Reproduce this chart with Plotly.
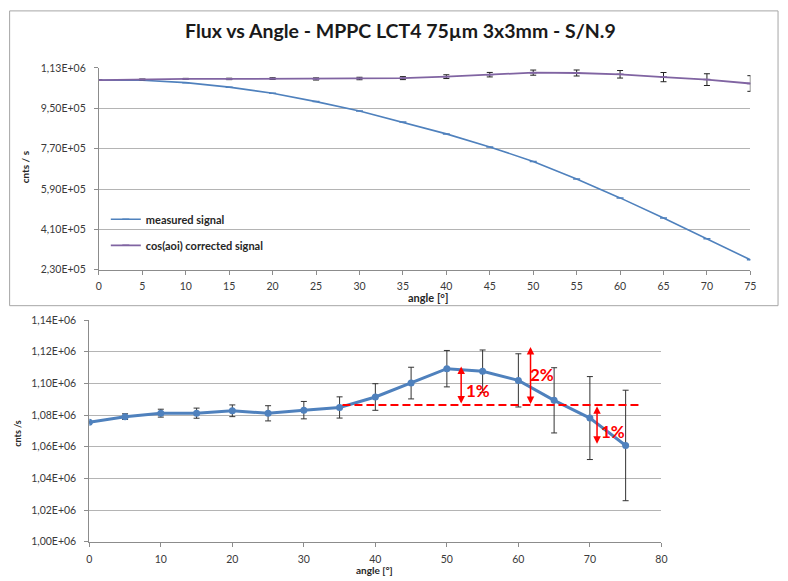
import plotly.graph_objects as go

# ---- data -------------------------------------------------------------
angles = [0, 5, 10, 15, 20, 25, 30, 35, 40, 45, 50, 55, 60, 65, 70, 75]

measured_signal = [1.0755e6, 1.0750e6, 1.0645e6, 1.0445e6, 1.0175e6, 0.9800e6,
                   0.9385e6, 0.8885e6, 0.8360e6, 0.7780e6, 0.7130e6, 0.6350e6,
                   0.5505e6, 0.4605e6, 0.3685e6, 0.2745e6]

corrected_signal = [1.0755e6, 1.0790e6, 1.0812e6, 1.0812e6, 1.0827e6, 1.0811e6,
                    1.0831e6, 1.0848e6, 1.0914e6, 1.1002e6, 1.1093e6, 1.1077e6,
                    1.1019e6, 1.0893e6, 1.0781e6, 1.0608e6]

corrected_err = [600, 1800, 2500, 3200, 3700, 4800, 5500, 6700, 8400, 10000,
                 11500, 13400, 16800, 20600, 26200, 34900]

top_x_ticks = [0, 5, 10, 15, 20, 25, 30, 35, 40, 45, 50, 55, 60, 65, 70, 75]
top_y_ticks = [2.30e5, 4.10e5, 5.90e5, 7.70e5, 9.50e5, 1.13e6]
bottom_x_ticks = [0, 10, 20, 30, 40, 50, 60, 70, 80]
bottom_y_ticks = [1.00e6, 1.02e6, 1.04e6, 1.06e6, 1.08e6, 1.10e6, 1.12e6, 1.14e6]

# reference level and percentage arrows on the zoomed chart
ref_level = 1.0863e6
ref_span = [35.4, 76.9]
arrow_x = [52.0, 61.7, 71.0]
arrow_lo = [1.0863e6, 1.0860e6, 1.0610e6]
arrow_hi = [1.1106e6, 1.1230e6, 1.0855e6]
arrow_text = ["1%", "2%", "1%"]
arrow_label_x = [54.3, 63.3, 73.3]
arrow_label_y = [1.0955e6, 1.1054e6, 1.0699e6]

title_text = "Flux vs Angle - MPPC LCT4 75µm 3x3mm - S/N.9"


def sci_label(v):
    return f"{v:.2E}".replace(".", ",")


W, H = 788, 581
FONT = "Lato"
BLUE = "#4F81BD"
PURPLE = "#8064A2"
GRID = "#b4b4b4"
AXIS = "#8c8c8c"
TICKFONT = dict(family=FONT, size=10.5, color="#3a3a3a")


def px_x(p):
    return p / W


def px_y(p):
    return 1 - p / H


fig = go.Figure()

# ---- top chart: raw and cos-corrected flux ---------------------------
fig.add_trace(go.Scatter(
    x=angles, y=measured_signal, name="measured signal",
    mode="lines+markers", xaxis="x", yaxis="y",
    line=dict(color=BLUE, width=1.6),
    marker=dict(symbol="line-ew", size=5, color=BLUE,
                line=dict(color=BLUE, width=1.5)),
    legendgroup="a",
))
fig.add_trace(go.Scatter(
    x=angles, y=corrected_signal, name="cos(aoi) corrected signal",
    mode="lines+markers", xaxis="x", yaxis="y",
    line=dict(color=PURPLE, width=1.8),
    marker=dict(symbol="line-ew", size=5, color=PURPLE,
                line=dict(color=PURPLE, width=1.5)),
    error_y=dict(type="data", array=corrected_err, visible=True,
                 color="#222222", thickness=1, width=3),
    legendgroup="b",
))

# ---- bottom chart: corrected flux, zoomed ----------------------------
fig.add_trace(go.Scatter(
    x=angles, y=corrected_signal, mode="lines+markers",
    xaxis="x2", yaxis="y2", showlegend=False,
    line=dict(color=BLUE, width=3),
    marker=dict(symbol="circle", size=7, color=BLUE),
    error_y=dict(type="data", array=corrected_err, visible=True,
                 color="#333333", thickness=1, width=3),
))

axis_common = dict(showline=True, linecolor=AXIS, linewidth=1, ticks="outside",
                   ticklen=4, tickcolor=AXIS, zeroline=False, tickfont=TICKFONT)

fig.update_layout(
    width=W, height=H,
    margin=dict(l=0, r=0, t=0, b=0),
    paper_bgcolor="white", plot_bgcolor="white",
    font=dict(family=FONT, color="#222222"),
    xaxis=dict(domain=[px_x(97), px_x(756)], range=[0, 75],
               tickvals=top_x_ticks, ticktext=[str(t) for t in top_x_ticks],
               showgrid=False, anchor="y", ticklabelstandoff=3, **axis_common),
    yaxis=dict(domain=[px_y(269.3), px_y(63.3)], range=[2.30e5, 1.13e6],
               tickvals=top_y_ticks, ticktext=[sci_label(v) for v in top_y_ticks],
               showgrid=True, gridcolor=GRID, gridwidth=1, anchor="x",
               ticklabelstandoff=6, **axis_common),
    xaxis2=dict(domain=[px_x(87.3), px_x(666)], range=[0, 80],
                tickvals=bottom_x_ticks, ticktext=[str(t) for t in bottom_x_ticks],
                showgrid=False, anchor="y2", ticklabelstandoff=4, **axis_common),
    yaxis2=dict(domain=[px_y(547), px_y(320.7)], range=[1.00e6, 1.14e6],
                tickvals=bottom_y_ticks,
                ticktext=[sci_label(v) for v in bottom_y_ticks],
                showgrid=True, gridcolor=GRID, gridwidth=1, anchor="x2",
                ticklabelstandoff=6, **axis_common),
    showlegend=True,
    legend=dict(x=px_x(104), y=px_y(203), xanchor="left", yanchor="top",
                bgcolor="rgba(0,0,0,0)", traceorder="grouped",
                tracegroupgap=7, itemwidth=30,
                font=dict(family=FONT, size=11, color="#262626", weight="bold")),
)

# frame around the top chart
fig.add_shape(type="rect", xref="paper", yref="paper",
              x0=px_x(6.7), x1=px_x(784), y0=px_y(306), y1=px_y(5),
              line=dict(color="#a6a6a6", width=1), fillcolor="rgba(0,0,0,0)",
              layer="below")

# reference level
fig.add_shape(type="line", xref="x2", yref="y2",
              x0=ref_span[0], x1=ref_span[1], y0=ref_level, y1=ref_level,
              line=dict(color="#ff0000", width=2, dash="8px,4px"))

centered = dict(xanchor="center", yanchor="middle", showarrow=False,
                xref="paper", yref="paper")

annotations = [
    dict(text=f"<b>{title_text}</b>", x=px_x(402), y=px_y(25),
         font=dict(family=FONT, size=19.5, color="#1a1a1a"), **centered),
    dict(text="<b>angle [°]</b>", x=px_x(430), y=px_y(298),
         font=dict(family=FONT, size=11, color="#262626"), **centered),
    dict(text="<b>cnts / s</b>", x=px_x(22), y=px_y(164), textangle=-90,
         font=dict(family=FONT, size=10, color="#262626"), **centered),
    dict(text="<b>angle [°]</b>", x=px_x(376), y=px_y(576),
         font=dict(family=FONT, size=10, color="#262626"), **centered),
    dict(text="<b>cnts /s</b>", x=px_x(15), y=px_y(436), textangle=-90,
         font=dict(family=FONT, size=9, color="#262626"), **centered),
]

for xa, lo, hi in zip(arrow_x, arrow_lo, arrow_hi):
    annotations.append(dict(
        x=xa, y=hi, ax=xa, ay=lo, xref="x2", yref="y2", axref="x2", ayref="y2",
        text="", showarrow=True, arrowside="end+start",
        arrowhead=2, startarrowhead=2, arrowsize=1, startarrowsize=1,
        arrowwidth=1.5, arrowcolor="#ff0000", standoff=0, startstandoff=0))

for tx, lx, ly in zip(arrow_text, arrow_label_x, arrow_label_y):
    annotations.append(dict(
        x=lx, y=ly, xref="x2", yref="y2", text=f"<b>{tx}</b>", showarrow=False,
        xanchor="center", yanchor="middle",
        font=dict(family=FONT, size=17, color="#ff0000")))

fig.update_layout(annotations=annotations)

fig.write_html("out.html")
